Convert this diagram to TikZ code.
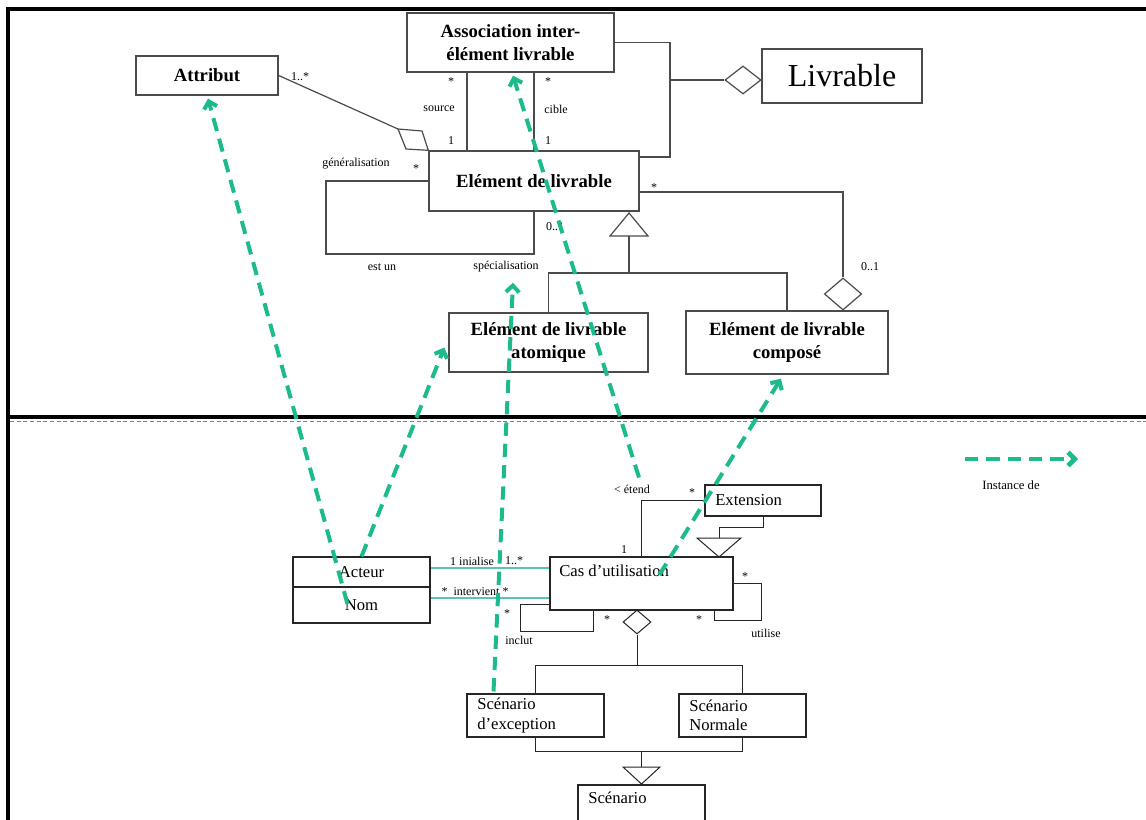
\documentclass[tikz,border=0pt]{standalone}
\usepackage{fontspec}
\setmainfont{Liberation Serif}
\usetikzlibrary{arrows.meta,calc,shapes.geometric}
\definecolor{instgreen}{RGB}{28,186,140}
\definecolor{linkteal}{RGB}{90,196,176}
\definecolor{lngray}{RGB}{75,75,75}

\begin{document}
\begin{tikzpicture}[x=0.75pt, y=-0.75pt,
  cls/.style={draw=lngray, line width=1pt, rectangle, inner sep=0pt, align=center, font=\bfseries\fontsize{14}{17}\selectfont},
  ucbox/.style={draw=black!85, line width=0.8pt, rectangle, inner sep=0pt, font=\fontsize{12.5}{15}\selectfont},
  uctxt/.style={anchor=west, inner sep=0pt, align=left, font=\fontsize{12.5}{14.5}\selectfont},
  lbl/.style={inner sep=0pt, font=\fontsize{9}{10}\selectfont},
  link/.style={draw=lngray, line width=0.9pt},
  uclink/.style={draw=black!85, line width=0.75pt},
  gen/.style={draw=lngray, line width=0.9pt, fill=white},
  aggr/.style={diamond, draw=lngray, line width=0.9pt, fill=white, inner sep=0pt},
  instarrow/.style={draw=instgreen, line width=3pt, dash pattern=on 10pt off 6pt, -{Straight Barb[length=5pt,width=10pt]}}
]
\useasboundingbox (0,0) rectangle (1146,820);

% Frame and separation
\draw[line width=2.6pt] (8,820) -- (8,9) -- (1146,9);
\draw[line width=2.3pt] (8,417) -- (1146,417);
\draw[gray, densely dashed, line width=0.6pt] (10,421) -- (1146,421);

% Meta-model classes
\node[cls, minimum width=106.5pt, minimum height=29.25pt] (attr) at (207,75.5) {Attribut};
\node[cls, minimum width=155.25pt, minimum height=44.25pt] (assoc) at (510.5,42.5) {Association inter-\\élément livrable};
\node[cls, minimum width=120pt, minimum height=40.5pt, font=\fontsize{24}{28}\selectfont] (livr) at (842,76) {Livrable};
\node[cls, minimum width=157.5pt, minimum height=45pt] (elem) at (534,181) {Elément de livrable};
\node[cls, minimum width=149.25pt, minimum height=44.25pt] (atom) at (548.5,342.5) {Elément de livrable\\atomique};
\node[cls, minimum width=151.5pt, minimum height=47.25pt] (comp) at (787,342.5) {Elément de livrable\\composé};

% Aggregation to Livrable
\node[aggr, minimum width=27pt, minimum height=21pt] (aglv) at (743,80) {};
\coordinate (brkt) at (670,42.5);
\coordinate (brkb) at (670,157);
\draw[link] (assoc.east) -- (brkt) -- (brkb) -- (brkb -| elem.east);
\draw[link] (brkt |- aglv.west) -- (aglv.west);

% Attribut aggregation
\coordinate (ag1) at (398,129);
\draw[link] (attr.east) -- (ag1);
\draw[gen] (ag1) -- (422,131) -- (elem.north west) -- (406,149) -- cycle;
\node[lbl] (attrm) at (300,77) {1..*};

% source / cible
\coordinate (srcx) at (467,0);
\coordinate (cibx) at (534,0);
\draw[link] (assoc.south -| srcx) -- (elem.north -| srcx);
\draw[link] (assoc.south -| cibx) -- (elem.north -| cibx);
\node[lbl] (srcm1) at (451,82) {*};
\node[lbl] (srcl) at (439,109) {source};
\node[lbl] (srcm2) at (451,141) {1};
\node[lbl] (cibm1) at (548,82) {*};
\node[lbl] (cibl) at (556,109) {cible};
\node[lbl] (cibm2) at (548,141) {1};

% est un loop
\draw[link] (elem.west) -- (326,181) -- (326,254) -- (534,254) -- (elem.south);
\node[lbl] (genl) at (356,164) {généralisation};
\node[lbl] (genm) at (416,169) {*};
\node[lbl] (estun) at (382,267) {est un};
\node[lbl] (spec) at (506,267) {spécialisation};
\node[lbl] (specm) at (555,227) {0..1};

% Inheritance atomique / composé
\coordinate (tri) at (629,213);
\coordinate (trib) at (629,236);
\coordinate (genbar) at (0,273);
\draw[gen] (tri) -- ++(-19,23) -- ++(38,0) -- cycle;
\draw[link] (trib) -- (trib |- genbar);
\draw[link] (atom.north) |- (comp.north |- genbar) -- (comp.north);

% Composition composé
\node[aggr, minimum width=28pt, minimum height=24pt] (agcp) at (843,294) {};
\draw[link] ($(elem.east)+(0,11)$) -| (agcp.north);
\node[lbl] (compm1) at (654,188) {*};
\node[lbl] (compm2) at (870,267) {0..1};

% Use case model
\node[ucbox, minimum width=102.75pt, minimum height=22.5pt] (acteur) at (361.5,572) {Acteur};
\node[ucbox, minimum width=102.75pt, minimum height=27pt] (nom) at (361.5,605) {Nom};
\node[ucbox, minimum width=137.25pt, minimum height=39.75pt] (cas) at (641.5,583.5) {};
\node[uctxt] (castxt) at (559,571) {Cas d’utilisation};
\node[ucbox, minimum width=87pt, minimum height=23.25pt] (ext) at (763,500.5) {};
\node[uctxt] (exttxt) at (715,500) {Extension};

% Acteur - Cas
\coordinate (iniy) at (0,568);
\coordinate (inty) at (0,598);
\draw[draw=linkteal, line width=0.8pt] (acteur.east |- iniy) -- (cas.west |- iniy);
\draw[draw=linkteal, line width=0.8pt] (nom.east |- inty) -- (cas.west |- inty);
\node[lbl] (inil) at (472,561) {1 inialise};
\node[lbl] (inim) at (514,561) {1..*};
\node[lbl] (intl) at (475,592) {*\ \ intervient *};

% etend
\draw[uclink] (cas.north) |- (ext.west);
\node[lbl] (etend) at (632,489) {< étend};
\node[lbl] (etm1) at (692,493) {*};
\node[lbl] (etm2) at (624,550) {1};
\coordinate (tre) at (719,557);
\draw[gen, draw=black!85, line width=0.75pt] (tre) -- ++(-22,-19) -- ++(44,0) -- cycle;
\draw[uclink] (ext.south) -- ++(0,11) -| ($(tre)+(0,-19)$);

% inclut / utilise loops
\draw[uclink] ($(cas.south west)+(0,-6)$) -- ++(-29,0) -- ++(0,27) -- ++(73,0) -- ++(0,-21);
\node[lbl] (incm1) at (507,614) {*};
\node[lbl] (incl) at (519,640) {inclut};
\node[lbl] (incm2) at (607,620) {*};
\draw[uclink] (cas.east) -- ++(28,0) -- ++(0,37) -- ++(-47,0) -- ++(0,-10);
\node[lbl] (utim1) at (745,577) {*};
\node[lbl] (utim2) at (699,620) {*};
\node[lbl] (util) at (766,633) {utilise};

% Scenarios
\node[ucbox, minimum width=102.75pt, minimum height=32.25pt] (excep) at (535.5,715.5) {};
\node[uctxt] (exctxt) at (477,715.5) {Scénario\\d’exception};
\node[ucbox, minimum width=95.25pt, minimum height=32.25pt] (norm) at (742.5,715.5) {};
\node[uctxt] (nrmtxt) at (689,715.5) {Scénario\\Normale};
\node[ucbox, minimum width=95.25pt, minimum height=37.5pt] (scen) at (641.5,810) {};
\node[uctxt] (scntxt) at (588,798) {Scénario};

\node[aggr, draw=black!85, line width=0.75pt, minimum width=21pt, minimum height=18pt] (agsc) at (637,622) {};
\coordinate (scbar) at (0,665);
\coordinate (lowbar) at (0,751);
\draw[uclink] (agsc.south) -- (agsc.south |- scbar);
\draw[uclink] (excep.north) |- (norm.north |- scbar) -- (norm.north);
\draw[uclink] (excep.south) |- (norm.south |- lowbar) -- (norm.south);
\coordinate (trs) at (641.5,784);
\draw[gen, draw=black!85, line width=0.75pt] (trs) -- ++(-18.5,-17) -- ++(37,0) -- cycle;
\draw[uclink] (scen.north |- lowbar) -- ($(trs)+(0,-17)$);

% Instance de arrows
\draw[instarrow] ($(nom.center)+(-14,-1)$) -- ($(attr.south)+(1,3)$);
\draw[instarrow] (acteur.north) -- ($(atom.west)+(-4,5)$);
\draw[instarrow] ($(excep.north)+(-42,-2)$) -- ($(spec.south)+(7,10)$);
\draw[instarrow] ($(etend.north)+(7,-7)$) -- ($(assoc.south)+(2.5,3)$);
\draw[instarrow] ($(castxt.east)+(-10,4)$) -- ($(comp.south)+(-6,4)$);

% Legend
\coordinate (lgs) at (965,459);
\coordinate (lge) at (1078,459);
\draw[instarrow, line width=3.5pt] (lgs) -- (lge);
\node[lbl, font=\fontsize{9.5}{11}\selectfont] (lgl) at (1011,485) {Instance de};

\end{tikzpicture}
\end{document}
